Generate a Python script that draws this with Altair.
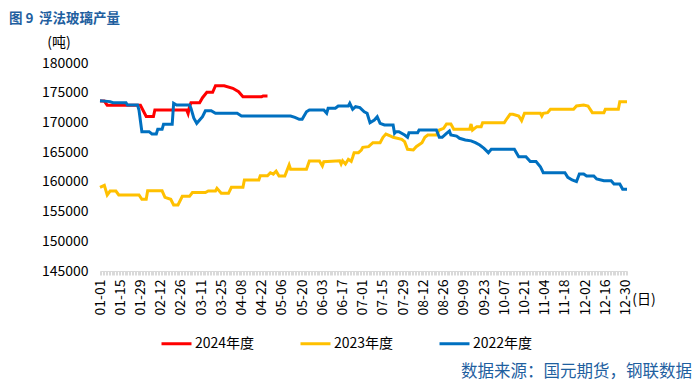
import altair as alt
import pandas as pd

FONT = "Noto Sans CJK SC"

series_names = ["2024年度", "2023年度", "2022年度"]
series_colors = ["#FF0000", "#FFC000", "#0070C0"]

dates_2024 = ["01-01", "01-04", "01-06", "01-29", "02-02", "02-07", "02-08", "03-01", "03-02",
              "03-03", "03-04", "03-10", "03-12", "03-15", "03-19", "03-21", "03-27", "04-02",
              "04-06", "04-09", "04-22", "04-23", "04-26"]
values_2024 = [173600, 173600, 172900, 172900, 171000, 171000, 172100, 172100, 171500,
               172650, 173300, 173300, 174160, 175070, 175070, 176180, 176180, 175740,
               175170, 174330, 174330, 174450, 174450]

dates_2023 = ["01-01", "01-04", "01-06", "01-08", "01-12", "01-14", "01-28", "01-30", "02-02",
              "02-03", "02-13", "02-15", "02-19", "02-21", "02-24", "02-27", "03-03", "03-05",
              "03-14", "03-16", "03-21", "03-22", "03-25", "03-30", "04-01", "04-09", "04-10",
              "04-20", "04-21", "04-26", "04-28", "04-30", "05-02", "05-04", "05-08", "05-11",
              "05-12", "05-23", "05-25", "06-01", "06-03", "06-04", "06-15", "06-16", "06-17",
              "06-19", "06-21", "06-23", "06-24", "06-25", "06-28", "06-30", "07-01", "07-05",
              "07-08", "07-13", "07-15", "07-17", "07-20", "07-22", "07-28", "07-30", "08-01",
              "08-05", "08-07", "08-11", "08-13", "08-15", "08-21", "08-23", "08-26", "08-28",
              "08-31", "09-02", "09-13", "09-14", "09-15", "09-18", "09-21", "09-22", "10-07",
              "10-09", "10-11", "10-13", "10-17", "10-19", "10-21", "11-01", "11-02", "11-03",
              "11-06", "11-08", "11-24", "11-26", "12-01", "12-04", "12-07", "12-15", "12-16",
              "12-25", "12-26", "12-31"]
values_2023 = [159080, 159420, 157790, 158460, 158460, 157790, 157790, 157060, 157060,
               158500, 158500, 157400, 157060, 156110, 156110, 157570, 157570, 158200,
               158200, 158460, 158460, 158910, 158070, 158070, 159080, 159080, 160310,
               160310, 161040, 161040, 161540, 161300, 161800, 160990, 160990, 162840,
               162110, 162110, 163510, 163510, 162670, 163390, 163560, 163000, 163560,
               163000, 163790, 163450, 164130, 164910, 164910, 165360, 165810, 165920,
               166590, 166590, 167500, 168050, 167720, 167500, 167160, 166760, 165480,
               165360, 165920, 166590, 167500, 167880, 167880, 168720, 169000, 169740,
               169740, 168840, 168840, 169740, 168720, 169290, 169290, 169960, 169960,
               170700, 171370, 171370, 171080, 170300, 171540, 171540, 171080, 171540,
               171640, 172210, 172210, 172770, 172930, 172770, 171640, 171640, 172210,
               172210, 173490, 173490]

dates_2022 = ["01-01", "01-08", "01-10", "01-19", "01-20", "01-27", "01-28", "01-30", "02-04",
              "02-06", "02-09", "02-10", "02-13", "02-14", "02-20", "02-21", "02-23", "03-03",
              "03-04", "03-06", "03-08", "03-10", "03-12", "03-14", "03-18", "03-21", "04-05",
              "04-08", "05-12", "05-15", "05-18", "05-20", "05-23", "05-25", "06-04", "06-06",
              "06-07", "06-12", "06-14", "06-21", "06-22", "06-24", "06-26", "06-29", "07-02",
              "07-04", "07-06", "07-09", "07-11", "07-13", "07-16", "07-22", "07-23", "07-24",
              "07-26", "07-30", "08-01", "08-02", "08-08", "08-09", "08-21", "08-23", "08-25",
              "08-28", "08-30", "08-31", "09-04", "09-06", "09-10", "09-14", "09-17", "09-20",
              "09-23", "09-26", "09-28", "10-14", "10-17", "10-22", "10-25", "10-29", "11-01",
              "11-03", "11-18", "11-20", "11-23", "11-26", "11-28", "12-01", "12-03", "12-08",
              "12-10", "12-15", "12-20", "12-22", "12-26", "12-28", "12-31"]
values_2022 = [173660, 173500, 173320, 173320, 172930, 172930, 172090, 168440, 168440,
               168050, 168050, 168840, 168840, 169680, 169680, 173220, 172930, 172930,
               172380, 170700, 169850, 170410, 170970, 171970, 171970, 171540, 171540,
               171080, 171080, 170860, 170530, 170530, 171800, 172090, 172090, 171540,
               172380, 172380, 172770, 172770, 173220, 172210, 172650, 172500, 171800,
               171540, 169960, 170410, 170970, 169850, 169570, 169570, 168170, 168440,
               168440, 167880, 167500, 168270, 168270, 168720, 168720, 167500, 167500,
               168170, 168560, 167880, 167700, 167330, 167050, 166900, 166590, 166200,
               165640, 164910, 165480, 165480, 164240, 164240, 163410, 163410, 162550,
               161540, 161540, 160760, 160310, 160030, 161320, 161320, 160990, 160990,
               160480, 160200, 160200, 159640, 159640, 158750, 158750]

y_ticks = [145000, 150000, 155000, 160000, 165000, 170000, 175000, 180000]

frames = []
for name, ds, vs in [(series_names[0], dates_2024, values_2024),
                     (series_names[1], dates_2023, values_2023),
                     (series_names[2], dates_2022, values_2022)]:
    df = pd.DataFrame({"date": ds, "value": vs})
    df["series"] = name
    df["day"] = (pd.to_datetime("2024-" + df["date"]) - pd.Timestamp("2024-01-01")).dt.days
    frames.append(df)
data = pd.concat(frames, ignore_index=True)

W, H = 527, 208

lines = alt.Chart(data).mark_line(strokeWidth=3, clip=False).encode(
    x=alt.X("day:Q",
            scale=alt.Scale(domain=[0, 365], nice=False, zero=False),
            axis=alt.Axis(values=list(range(0, 366)),
                          labelExpr="datum.value % 14 == 0 && datum.value <= 364 ? timeFormat(datetime(2024,0,1+datum.value),'%m-%d') : ''",
                          labelAngle=270, labelFontSize=14, labelColor="#000000", labelFont=FONT,
                          labelOverlap=False, labelPadding=4, labelBaseline="middle",
                          tickColor="#D9D9D9", tickSize=4, domainColor="#D9D9D9",
                          grid=False, title=None)),
    y=alt.Y("value:Q",
            scale=alt.Scale(domain=[145000, 180000], nice=False, zero=False),
            axis=alt.Axis(values=y_ticks, format="d", labelFontSize=14, labelColor="#000000",
                          labelFont=FONT, domain=False, ticks=False, grid=False,
                          labelPadding=12, title=None)),
    color=alt.Color("series:N",
                    scale=alt.Scale(domain=series_names, range=series_colors),
                    legend=alt.Legend(title=None, orient="none", direction="horizontal",
                                      legendX=60, legendY=264, symbolType="stroke",
                                      symbolSize=900, symbolStrokeWidth=3, labelFontSize=14,
                                      labelFont=FONT, labelColor="#000000", columnPadding=39,
                                      labelOffset=2, padding=0)),
    detail="series:N",
    order="day:Q",
)

def txt(t, x, y, size=14, color="#000000", align="left", weight="normal", baseline="middle"):
    return alt.Chart(pd.DataFrame({"t": [t]})).mark_text(
        align=align, baseline=baseline, fontSize=size, font=FONT, color=color,
        fontWeight=weight, clip=False
    ).encode(text="t:N", x=alt.value(x), y=alt.value(y))

title_num = txt("图 9", -91, -44, size=13.5, color="#1F5F9F", weight="bold")
title_main = txt("浮法玻璃产量", -61, -44, size=13.5, color="#1F5F9F", weight="bold")
unit = txt("(吨)", -41, -20, size=14, align="center")
day_unit = txt("(日)", 544, 237, size=14, align="center")
source = txt("数据来源：国元期货，钢联数据", 592, 309, size=16.5, color="#1F5F9F", align="right")

chart = alt.layer(lines, title_num, title_main, unit, day_unit, source).properties(
    width=W, height=H,
    autosize=alt.AutoSizeParams(type="none"),
    padding={"left": 92, "top": 55, "right": 65, "bottom": 114},
).configure_view(stroke=None)

chart.save("out.html", embed_options={"renderer": "svg", "actions": False})
